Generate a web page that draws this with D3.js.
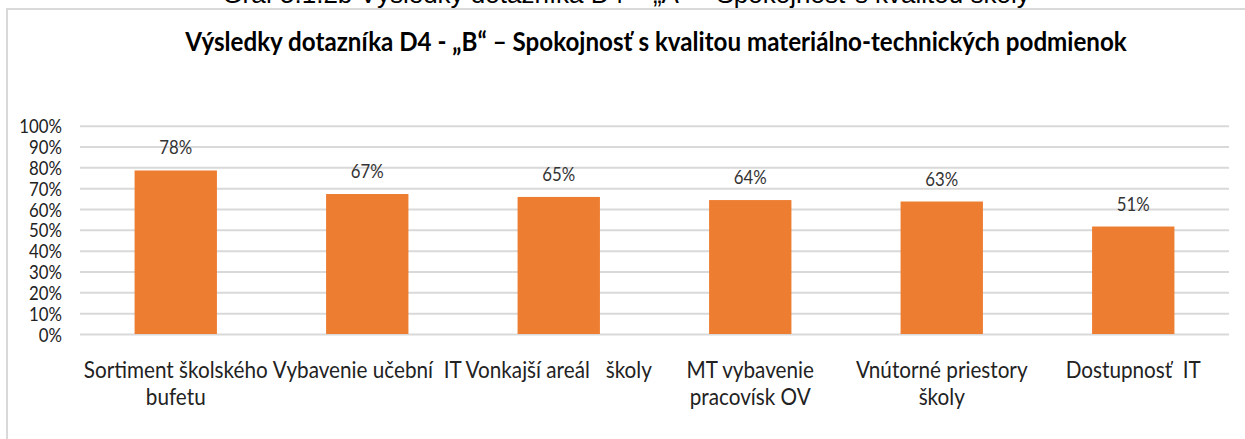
<!DOCTYPE html>
<html><head><meta charset="utf-8">
<script src="https://cdn.jsdelivr.net/npm/d3@7"></script>
<style>body{margin:0;background:#fff;overflow:hidden}</style>
</head><body>
<svg id="c" width="1245" height="439"></svg>
<script>
const categories = ["Sortiment školského\nbufetu", "Vybavenie učební  IT", "Vonkajší areál   školy", "MT vybavenie\npracovísk OV", "Vnútorné priestory\nškoly", "Dostupnosť  IT"];
const values = [0.785, 0.672, 0.658, 0.643, 0.636, 0.516];
const valueLabels = ["78%", "67%", "65%", "64%", "63%", "51%"];
const yTicks = [0, 0.1, 0.2, 0.3, 0.4, 0.5, 0.6, 0.7, 0.8, 0.9, 1.0];
const chartTitle = "Výsledky dotazníka D4 - „B“ – Spokojnosť s kvalitou materiálno-technických podmienok";
const pageCaption = "Graf 5.1.2b Výsledky dotazníka D4 – „A“ – Spokojnosť s kvalitou školy";

(function () {
const FONT = "Lato, 'Open Sans', sans-serif";
const SX = 0.84;
const svg = d3.select("#c");
const pLeft = 80, pRight = 1229, pTop = 125.7, pBottom = 334;

svg.append("text").attr("x", 626).attr("y", 3).attr("text-anchor", "middle")
  .attr("font-family", "'Liberation Sans',Arial,sans-serif").attr("font-size", 26).attr("fill", "#000")
  .text(pageCaption);

svg.append("line").attr("x1", 7).attr("x2", 1245).attr("y1", 9).attr("y2", 9).attr("stroke", "#d9d9d9").attr("stroke-width", 2);
svg.append("line").attr("x1", 7).attr("x2", 7).attr("y1", 8).attr("y2", 439).attr("stroke", "#d9d9d9").attr("stroke-width", 2);

svg.append("text").attr("transform", `translate(656,51) scale(0.895,1)`).attr("text-anchor", "middle")
  .attr("font-family", FONT).attr("font-weight", "bold").attr("font-size", 27).attr("fill", "#000")
  .text(chartTitle);

const x = d3.scaleBand().domain(categories).range([pLeft, pRight]).paddingInner(0.57).paddingOuter(0.285);
const y = d3.scaleLinear().domain([0, 1]).range([pBottom, pTop]);

const yAxis = svg.append("g").attr("transform", `translate(${pLeft},0)`)
  .call(d3.axisLeft(y).tickValues(yTicks).tickFormat(d3.format(".0%")).tickSize(-(pRight - pLeft)).tickPadding(0));
yAxis.select(".domain").remove();
yAxis.selectAll(".tick line").attr("stroke", "#d9d9d9").attr("stroke-width", 2);
yAxis.selectAll(".tick text").attr("x", null).attr("dy", null)
  .attr("transform", `translate(-18,7) scale(${SX},1)`)
  .attr("font-family", FONT).attr("font-size", 20).attr("fill", "#222");

svg.selectAll("rect.bar").data(values).enter().append("rect").attr("class", "bar")
  .attr("x", (d, i) => x(categories[i])).attr("width", x.bandwidth())
  .attr("y", d => y(d)).attr("height", d => y(0) - y(d)).attr("fill", "#ED7D31");

svg.selectAll("text.vl").data(values).enter().append("text").attr("class", "vl")
  .attr("transform", (d, i) => `translate(${x(categories[i]) + x.bandwidth() / 2},${y(d) - 16}) scale(${SX},1)`)
  .attr("text-anchor", "middle").attr("font-family", FONT).attr("font-size", 20).attr("fill", "#333")
  .text((d, i) => valueLabels[i]);

const xl = svg.selectAll("text.xl").data(categories).enter().append("text").attr("class", "xl")
  .attr("transform", d => `translate(${x(d) + x.bandwidth() / 2},378) scale(0.9,1)`)
  .attr("text-anchor", "middle").attr("font-family", FONT).attr("font-size", 23).attr("fill", "#222")
  .attr("xml:space", "preserve").style("white-space", "pre");
xl.each(function(d) {
  const lines = d.split("\n");
  const t = d3.select(this);
  lines.forEach((ln, k) => {
    t.append("tspan").attr("x", 0).attr("dy", k === 0 ? 0 : 27).text(ln);
  });
});
})();
</script>
</body></html>
